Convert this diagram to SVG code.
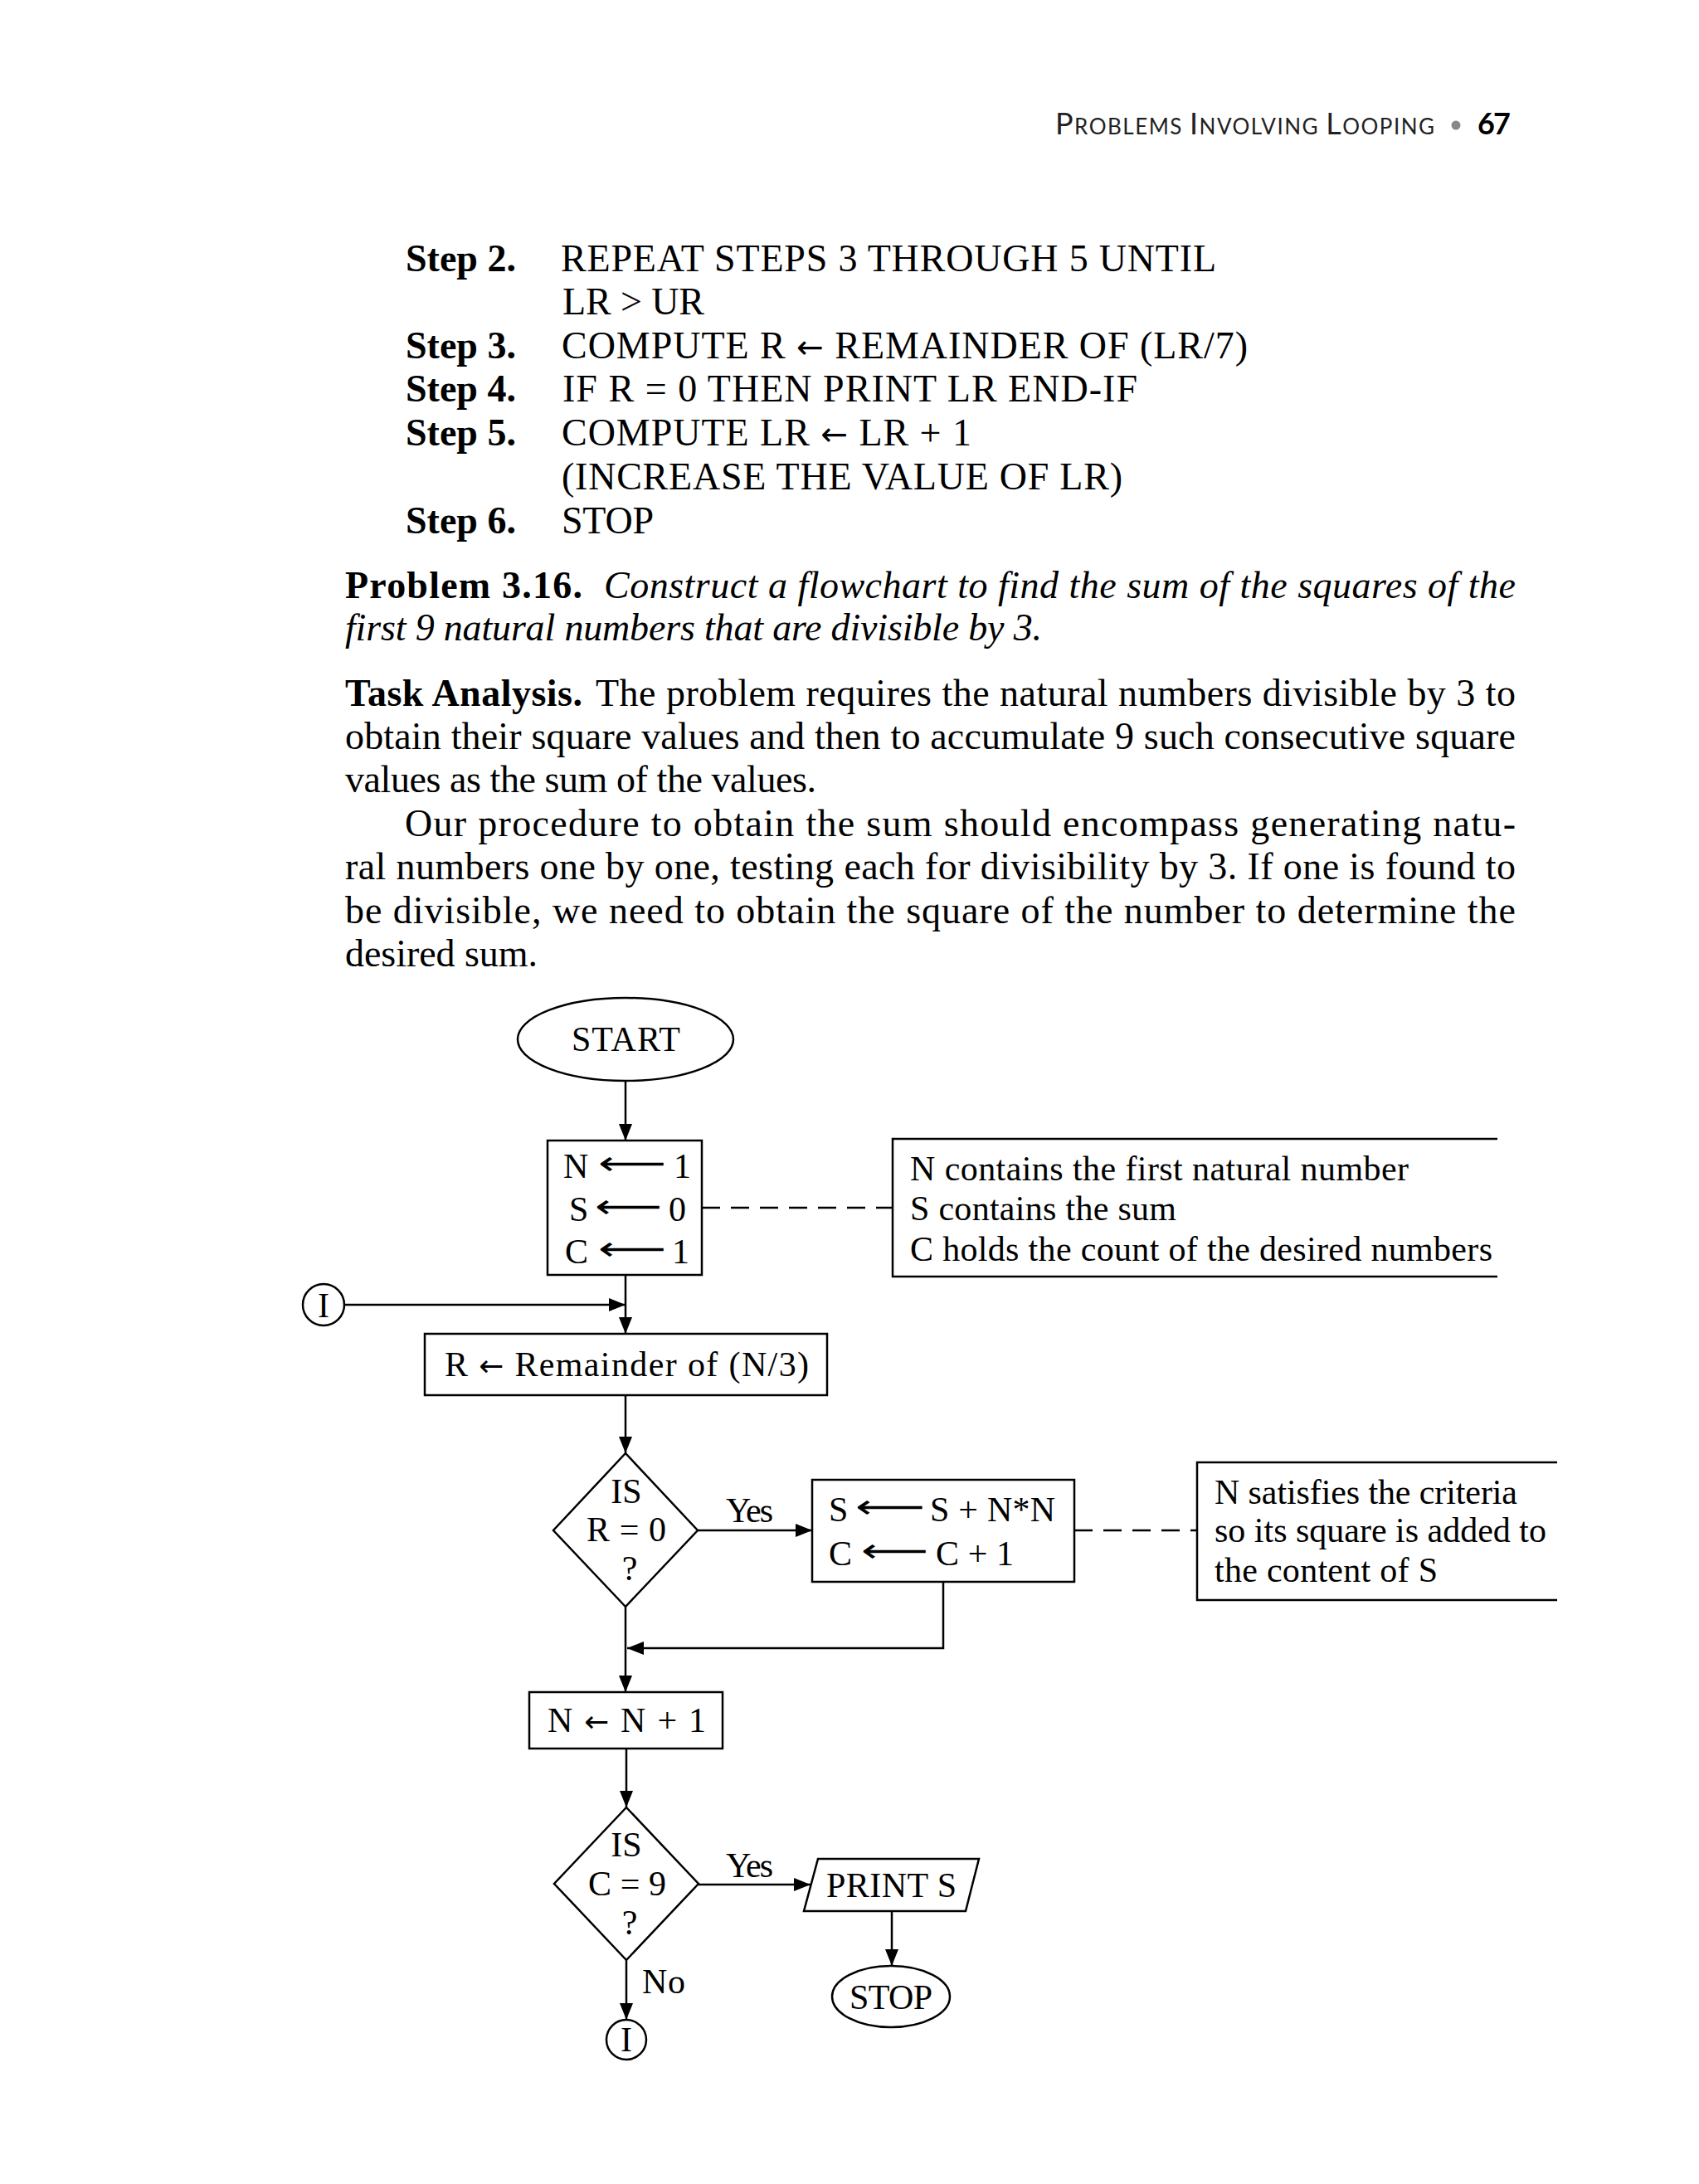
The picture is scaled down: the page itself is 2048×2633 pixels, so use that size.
<svg xmlns="http://www.w3.org/2000/svg" width="2048" height="2633" viewBox="0 0 2048 2633">
<style>
.ln{stroke:#000;stroke-width:2.5;fill:none}
.dl{stroke:#000;stroke-width:2.5;fill:none;stroke-dasharray:22 13}
.nd{stroke:#000;stroke-width:2.5;fill:#fff}
.ft{font-family:"Liberation Serif","DejaVu Serif",serif;font-size:42px;fill:#000}
.ar{font-family:"DejaVu Sans","Liberation Serif",sans-serif;font-size:40px;fill:#000}
.sa{font-family:"DejaVu Sans",sans-serif;font-size:0.85em}
.bt{font-family:"Liberation Serif","DejaVu Serif",serif;font-size:46px;fill:#000}
.b{font-weight:bold}
.i{font-style:italic}
.hd{font-family:Lato,"Liberation Sans",sans-serif;fill:#222}
</style>
<defs>
<marker id="ah" viewBox="0 0 20 16" markerWidth="20" markerHeight="16" refX="20" refY="8" orient="auto" markerUnits="userSpaceOnUse"><path d="M0,0 L20,8 L0,16 z" fill="#000"/></marker>
</defs>
<rect width="2048" height="2633" fill="#fff"/>

<g id="page-header">
<text class="hd" x="1272" y="162" textLength="457"><tspan font-size="36">P</tspan><tspan font-size="26">ROBLEMS </tspan><tspan font-size="36">I</tspan><tspan font-size="26">NVOLVING </tspan><tspan font-size="36">L</tspan><tspan font-size="26">OOPING</tspan></text>
<circle cx="1755" cy="151" r="5.5" fill="#888"/>
<text x="1781" y="162" font-family="Lato,'Liberation Sans',sans-serif" font-weight="bold" font-size="36" textLength="40">67</text>
</g>

<g id="algorithm-steps" class="bt">
<text class="b" x="489" y="327">Step 2.</text>
<text x="676" y="327" textLength="790">REPEAT STEPS 3 THROUGH 5 UNTIL</text>
<text x="678" y="379" textLength="171">LR &gt; UR</text>
<text class="b" x="489" y="432">Step 3.</text>
<text x="677" y="432" textLength="827">COMPUTE R <tspan class="sa">←</tspan> REMAINDER OF (LR/7)</text>
<text class="b" x="489" y="484">Step 4.</text>
<text x="678" y="484" textLength="693">IF R = 0 THEN PRINT LR END-IF</text>
<text class="b" x="489" y="537">Step 5.</text>
<text x="677" y="537" textLength="494">COMPUTE LR <tspan class="sa">←</tspan> LR + 1</text>
<text x="677" y="590" textLength="676">(INCREASE THE VALUE OF LR)</text>
<text class="b" x="489" y="643">Step 6.</text>
<text x="677" y="643" textLength="111">STOP</text>
</g>

<g id="problem-text" class="bt">
<text class="b" x="416" y="721" textLength="286">Problem 3.16.</text>
<text class="i" x="728" y="721" textLength="1099">Construct a flowchart to find the sum of the squares of the</text>
<text class="i" x="416" y="772" textLength="840">first 9 natural numbers that are divisible by 3.</text>
<text class="b" x="416" y="851" textLength="286">Task Analysis.</text>
<text x="718" y="851" textLength="1109">The problem requires the natural numbers divisible by 3 to</text>
<text x="416" y="903" textLength="1411">obtain their square values and then to accumulate 9 such consecutive square</text>
<text x="416" y="955" textLength="568">values as the sum of the values.</text>
<text x="488" y="1008" textLength="1339">Our procedure to obtain the sum should encompass generating natu-</text>
<text x="416" y="1060" textLength="1411">ral numbers one by one, testing each for divisibility by 3. If one is found to</text>
<text x="416" y="1113" textLength="1411">be divisible, we need to obtain the square of the number to determine the</text>
<text x="416" y="1165" textLength="232">desired sum.</text>
</g>

<g id="connectors">
<path class="ln" d="M754,1303 V1375" marker-end="url(#ah)"/>
<path class="ln" d="M754,1537 V1608" marker-end="url(#ah)"/>
<path class="ln" d="M415,1573 H754" marker-end="url(#ah)"/>
<path class="ln" d="M754,1682 V1752" marker-end="url(#ah)"/>
<path class="ln" d="M841,1845 H979" marker-end="url(#ah)"/>
<path class="ln" d="M1137,1907 V1987 H756" marker-end="url(#ah)"/>
<path class="ln" d="M754,1937 V2040" marker-end="url(#ah)"/>
<path class="ln" d="M755,2108 V2179" marker-end="url(#ah)"/>
<path class="ln" d="M842,2272 H977" marker-end="url(#ah)"/>
<path class="ln" d="M1075,2304 V2370" marker-end="url(#ah)"/>
<path class="ln" d="M755,2363 V2435" marker-end="url(#ah)"/>
<path class="dl" d="M846,1456 H1076"/>
<path class="dl" d="M1295,1845 H1443"/>
<text class="ft" x="875" y="1835" textLength="57">Yes</text>
<text class="ft" x="875" y="2263" textLength="57">Yes</text>
<text class="ft" x="774" y="2403" textLength="52">No</text>
</g>

<g id="start">
<ellipse class="nd" cx="754" cy="1253" rx="130" ry="50"/>
<text class="ft" x="689" y="1267" textLength="131">START</text>
</g>

<g id="init">
<rect class="nd" x="660" y="1375" width="186" height="162"/>
<text class="ft" x="679" y="1420">N</text>
<text class="ar" x="721" y="1416" textLength="82" lengthAdjust="spacingAndGlyphs">⟵</text>
<text class="ft" x="812" y="1420">1</text>
<text class="ft" x="686" y="1472">S</text>
<text class="ar" x="717" y="1468" textLength="81" lengthAdjust="spacingAndGlyphs">⟵</text>
<text class="ft" x="806" y="1472">0</text>
<text class="ft" x="681" y="1523">C</text>
<text class="ar" x="721" y="1519" textLength="82" lengthAdjust="spacingAndGlyphs">⟵</text>
<text class="ft" x="810" y="1523">1</text>
</g>

<g id="note-init">
<path class="ln" d="M1805,1373 H1076 V1539 H1805"/>
<text class="ft" x="1097" y="1423" textLength="601">N contains the first natural number</text>
<text class="ft" x="1097" y="1471" textLength="321">S contains the sum</text>
<text class="ft" x="1097" y="1520" textLength="702">C holds the count of the desired numbers</text>
</g>

<g id="connector-I-in">
<circle class="nd" cx="390" cy="1573" r="25"/>
<text class="ft" x="390" y="1588" text-anchor="middle">I</text>
</g>

<g id="remainder">
<rect class="nd" x="512" y="1608" width="485" height="74"/>
<text class="ft" x="536" y="1659" textLength="439">R <tspan class="sa">←</tspan> Remainder of (N/3)</text>
</g>

<g id="decision-r">
<polygon class="nd" points="754,1752 841,1845 754,1937 667,1845"/>
<text class="ft" x="755" y="1812" text-anchor="middle">IS</text>
<text class="ft" x="755" y="1858" text-anchor="middle" textLength="96">R = 0</text>
<text class="ft" x="759" y="1905" text-anchor="middle">?</text>
</g>

<g id="accumulate">
<rect class="nd" x="979" y="1784" width="316" height="123"/>
<text class="ft" x="999" y="1834">S</text>
<text class="ar" x="1031" y="1830" textLength="84" lengthAdjust="spacingAndGlyphs">⟵</text>
<text class="ft" x="1121" y="1834" textLength="151">S + N*N</text>
<text class="ft" x="999" y="1887">C</text>
<text class="ar" x="1038" y="1883" textLength="81" lengthAdjust="spacingAndGlyphs">⟵</text>
<text class="ft" x="1128" y="1887" textLength="94">C + 1</text>
</g>

<g id="note-accumulate">
<path class="ln" d="M1877,1763 H1443 V1929 H1877"/>
<text class="ft" x="1464" y="1813" textLength="365">N satisfies the criteria</text>
<text class="ft" x="1464" y="1859" textLength="400">so its square is added to</text>
<text class="ft" x="1464" y="1907" textLength="269">the content of S</text>
</g>

<g id="increment">
<rect class="nd" x="638" y="2040" width="233" height="68"/>
<text class="ft" x="660" y="2088" textLength="191">N <tspan class="sa">←</tspan> N + 1</text>
</g>

<g id="decision-c">
<polygon class="nd" points="755,2179 842,2271 755,2363 668,2271"/>
<text class="ft" x="755" y="2238" text-anchor="middle">IS</text>
<text class="ft" x="756" y="2285" text-anchor="middle" textLength="94">C = 9</text>
<text class="ft" x="759" y="2332" text-anchor="middle">?</text>
</g>

<g id="print">
<polygon class="nd" points="986,2241 1180,2241 1164,2304 969,2304"/>
<text class="ft" x="996" y="2287" textLength="157">PRINT S</text>
</g>

<g id="stop">
<ellipse class="nd" cx="1074" cy="2407" rx="71" ry="37"/>
<text class="ft" x="1024" y="2422" textLength="100">STOP</text>
</g>

<g id="connector-I-out">
<circle class="nd" cx="755" cy="2459" r="24"/>
<text class="ft" x="755" y="2473" text-anchor="middle">I</text>
</g>
</svg>
